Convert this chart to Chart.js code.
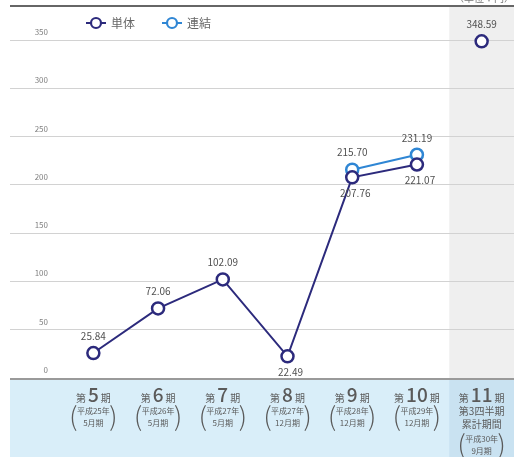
<!DOCTYPE html>
<html><head><meta charset="utf-8">
<script src="https://cdn.jsdelivr.net/npm/chart.js@4"></script>
<style>html,body{margin:0;padding:0;background:#fff}canvas{display:block}</style>
</head><body>
<canvas id="c" width="514" height="457"></canvas>
<script>
const periodNums = ['5','6','7','8','9','10','11'];
const eraYears = ['平成25年','平成26年','平成27年','平成27年','平成28年','平成29年','平成30年'];
const monthTerms = ['5月期','5月期','5月期','12月期','12月期','12月期','9月期'];
const extraLines11 = ['第3四半期','累計期間'];
const singleValues = [25.84, 72.06, 102.09, 22.49, 207.76, 221.07, 348.59];
const consolidatedValues = [null, null, null, null, 215.70, 231.19, null];
const singleLabelPos = ['above','above','above','below','below','below','above'];
const consolidatedLabelPos = [null,null,null,null,'above','above',null];
const yTicks = [0,50,100,150,200,250,300,350];
const seriesNames = ['単体','連結'];

const NAVY = '#2c2a7c', BLUE = '#2f86d4';
const FONT = '"Noto Sans CJK JP", "Noto Sans", sans-serif';

const decor = {
  id: 'decor',
  beforeDraw(chart) {
    const {ctx, chartArea: a, scales: {x}} = chart;
    const W = chart.width, H = chart.height;
    const split = x.getPixelForValue(5.5);
    ctx.save();
    ctx.fillStyle = '#efefef';
    ctx.fillRect(split, 7, W - split, a.bottom - 7);
    ctx.fillStyle = '#d9eef9';
    ctx.fillRect(10, a.bottom, W - 10, H - a.bottom);
    ctx.fillStyle = '#c9e2f1';
    ctx.fillRect(split, a.bottom, W - split, H - a.bottom);
    ctx.strokeStyle = '#666';
    ctx.lineWidth = 2;
    ctx.beginPath(); ctx.moveTo(10, 6); ctx.lineTo(W, 6); ctx.stroke();
    ctx.fillStyle = '#777';
    ctx.font = '10px ' + FONT;
    ctx.textAlign = 'right';
    ctx.textBaseline = 'alphabetic';
    ctx.fillText('（単位：円）', W, 2);
    ctx.restore();
  },
  afterDraw(chart) {
    const {ctx, chartArea: a, scales: {x}} = chart;
    const W = chart.width;
    ctx.save();
    ctx.strokeStyle = '#9a9a9a';
    ctx.lineWidth = 2;
    ctx.beginPath(); ctx.moveTo(10, a.bottom + 1); ctx.lineTo(W, a.bottom + 1); ctx.stroke();

    const items = [{c: NAVY, x: 96}, {c: BLUE, x: 172}];
    items.forEach((it, i) => {
      const y = 23;
      ctx.strokeStyle = it.c; ctx.lineWidth = 2;
      ctx.beginPath(); ctx.moveTo(it.x - 10, y); ctx.lineTo(it.x + 10, y); ctx.stroke();
      ctx.beginPath(); ctx.arc(it.x, y, 5, 0, Math.PI * 2);
      ctx.fillStyle = '#fff'; ctx.fill();
      ctx.lineWidth = 2.2; ctx.stroke();
      ctx.fillStyle = '#666';
      ctx.font = '12px ' + FONT;
      ctx.textAlign = 'left'; ctx.textBaseline = 'middle';
      ctx.fillText(seriesNames[i], it.x + 15, y);
    });

    ctx.fillStyle = '#5a5a5a';
    ctx.textBaseline = 'alphabetic';
    periodNums.forEach((n, i) => {
      const cx = x.getPixelForValue(i);
      const small = '10px ' + FONT, big = '500 19px ' + FONT;
      ctx.font = small; const w1 = ctx.measureText('第').width;
      ctx.font = big; const w2 = ctx.measureText(n).width;
      const gap = 2;
      const total = w1 + w2 + w1 + gap * 2;
      let px = cx - total / 2;
      const by = 402;
      ctx.textAlign = 'left';
      ctx.font = small; ctx.fillText('第', px, by); px += w1 + gap;
      ctx.font = big; ctx.fillText(n, px, by); px += w2 + gap;
      ctx.font = small; ctx.fillText('期', px, by);
      ctx.textAlign = 'center';
      let ly = 414;
      if (i === 6) {
        ctx.font = '10px ' + FONT;
        extraLines11.forEach(t => { ctx.fillText(t, cx, ly + 1); ly += 13; });
        ly += 2;
      }
      ctx.font = '8px ' + FONT;
      ctx.fillText(eraYears[i], cx, ly);
      ctx.fillText(monthTerms[i], cx, ly + 12);
      ctx.font = '300 26px ' + FONT;
      ctx.fillText('(', cx - 20, ly + 12);
      ctx.fillText(')', cx + 20, ly + 12);
    });

    ctx.font = '10px ' + FONT;
    ctx.fillStyle = '#505050';
    ctx.textAlign = 'center'; ctx.textBaseline = 'middle';
    const pos = [singleLabelPos, consolidatedLabelPos];
    chart.data.datasets.forEach((ds, di) => {
      const meta = chart.getDatasetMeta(di);
      meta.data.forEach((pt, i) => {
        const v = ds.data[i];
        if (v == null) return;
        const dy = pos[di][i] === 'above' ? -17 : 16;
        ctx.fillText(v.toFixed(2), pt.x + (pos[di][i] === 'below' ? 3 : 0), pt.y + dy);
      });
    });
    ctx.restore();
  }
};

new Chart(document.getElementById('c'), {
  type: 'line',
  data: {
    labels: periodNums,
    datasets: [
      {
        label: seriesNames[0], data: singleValues,
        borderColor: NAVY, backgroundColor: '#fff', borderWidth: 2,
        pointRadius: 6, pointBorderWidth: 2.5, pointBackgroundColor: '#fff', pointBorderColor: NAVY,
        clip: false,
        segment: { borderColor: c => c.p1DataIndex === 6 ? 'rgba(0,0,0,0)' : NAVY }
      },
      {
        label: seriesNames[1], data: consolidatedValues,
        borderColor: BLUE, backgroundColor: '#fff', borderWidth: 2,
        pointRadius: 6, pointBorderWidth: 2.5, pointBackgroundColor: '#fff', pointBorderColor: BLUE,
        clip: false
      }
    ]
  },
  options: {
    responsive: false, animation: false, devicePixelRatio: 1,
    layout: { autoPadding: false, padding: { left: 10, top: 40, right: 0, bottom: 71 } },
    plugins: { legend: { display: false }, tooltip: { enabled: false } },
    scales: {
      x: {
        offset: true,
        grid: { display: false }, border: { display: false },
        ticks: { display: false }
      },
      y: {
        min: 0, max: 350,
        afterBuildTicks: s => { s.ticks = yTicks.map(v => ({ value: v })); },
        afterFit: s => { s.width = 51; },
        grid: { color: '#d2d2d2', lineWidth: 1, tickLength: 51, tickColor: '#d2d2d2' },
        border: { display: false },
        ticks: { padding: -38, labelOffset: -8, color: '#808080', font: { size: 8, family: FONT } }
      }
    }
  },
  plugins: [decor]
});
</script>
</body></html>
